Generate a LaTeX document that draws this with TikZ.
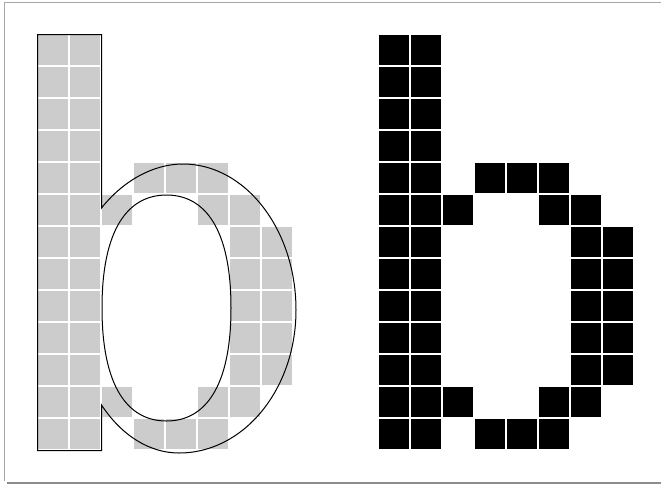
\documentclass[tikz,border=0pt]{standalone}
\usepackage{tikz}

\begin{document}
\begin{tikzpicture}[
  x=1pt, y=-1pt,
  cell/.style={rectangle, minimum size=30pt, inner sep=0pt, draw=none},
  softcell/.style={cell, fill=gray!40},
  hardcell/.style={cell, fill=black},
  outline/.style={draw=black, line width=1pt}
]
\useasboundingbox (0,0) rectangle (661,485);

% Draw page frame
\draw[gray!70, line width=1pt] (4.5,481) -- (4.5,2.5) -- (661,2.5);
\draw[gray!90, line width=2pt] (7,483) -- (661,483);

% Draw both rasters (grey under the outline, black on its own)
\foreach \r/\cols in {0/{0,1}, 1/{0,1}, 2/{0,1}, 3/{0,1}, 4/{0,1,3,4,5},
                      5/{0,1,2,5,6}, 6/{0,1,6,7}, 7/{0,1,6,7}, 8/{0,1,6,7},
                      9/{0,1,6,7}, 10/{0,1,6,7}, 11/{0,1,2,5,6}, 12/{0,1,3,4,5}} {
  \foreach \c in \cols {
    \node[softcell] (L-\r-\c) at (53+32*\c, 50+32*\r) {};
    \node[hardcell] (R-\r-\c) at (394+32*\c, 50+32*\r) {};
  }
}

% Draw glyph outline over the grey raster
\draw[outline] (37.5,34.5) -- (101.5,34.5) -- (101.5,208)
  .. controls (123,181) and (153,164) .. (183,164)
  .. controls (245,164) and (296,229) .. (296,310)
  .. controls (296,389) and (244,453) .. (179,453)
  .. controls (150,453) and (122,436) .. (101.5,405)
  -- (101.5,450.5) -- (37.5,450.5) -- cycle;
\draw[outline] (166.5,195)
  .. controls (205,195) and (231,229) .. (231,308)
  .. controls (231,387) and (205,421) .. (166.5,421)
  .. controls (128,421) and (102,387) .. (102,308)
  .. controls (102,229) and (128,195) .. (166.5,195) -- cycle;

\end{tikzpicture}
\end{document}
